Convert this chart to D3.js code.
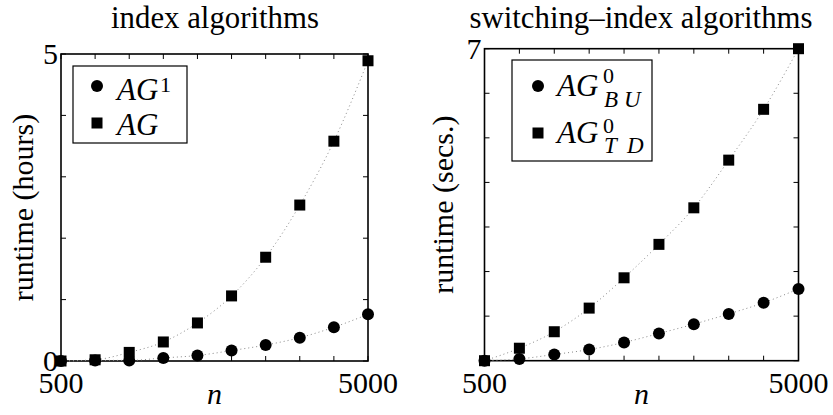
<!DOCTYPE html>
<html lang="en">
<head>
<meta charset="UTF-8">
<title>index vs switching-index algorithms</title>
<script src="https://d3js.org/d3.v7.min.js"></script>
<style>
  body { margin: 0; background: #fff; }
  text { font-family: "Liberation Serif", "DejaVu Serif", serif; fill: #000; }
</style>
</head>
<body>
<div id="chart"></div>
<script>
// problem sizes n
const nValues = [500, 1000, 1500, 2000, 2500, 3000, 3500, 4000, 4500, 5000];

// index algorithms, runtime in hours
const agOne = [0, 0.01, 0.01, 0.05, 0.09, 0.17, 0.26, 0.38, 0.55, 0.76];
const agPlain = [0, 0.02, 0.14, 0.31, 0.62, 1.06, 1.69, 2.54, 3.58, 4.89];

// switching-index algorithms, runtime in seconds
const agBU = [0, 0.04, 0.14, 0.25, 0.41, 0.61, 0.82, 1.05, 1.30, 1.61];
const agTD = [0, 0.28, 0.65, 1.18, 1.86, 2.61, 3.43, 4.50, 5.64, 7.0];

// tick labels
const xTickLabels = [500, 5000];
const leftYTickLabels = [0, 5];
const rightYTickLabels = [7];

const svg = d3.select('#chart')
    .append('svg')
    .attr('width', 833)
    .attr('height', 415);

function drawPanel(p) {
    const x = d3.scaleLinear().domain([500, 5000]).range([p.left, p.right]);
    const y = d3.scaleLinear().domain([0, p.yMax]).range([p.bottom, p.top]);
    const g = svg.append('g');

    // title
    g.append('text')
        .attr('x', p.titleX)
        .attr('y', 28)
        .attr('text-anchor', 'middle')
        .attr('font-size', '30.8px')
        .text(p.title);

    // inner ticks on all four sides
    const tickLen = 5;
    const xTicks = d3.range(500, 5001, 500);
    const yTicks = d3.range(0, p.yMax + 0.001, 1);
    xTicks.forEach(t => {
        g.append('line').attr('x1', x(t)).attr('x2', x(t))
            .attr('y1', p.bottom).attr('y2', p.bottom - tickLen)
            .attr('stroke', '#000').attr('stroke-width', 1);
        g.append('line').attr('x1', x(t)).attr('x2', x(t))
            .attr('y1', p.top).attr('y2', p.top + tickLen)
            .attr('stroke', '#000').attr('stroke-width', 1);
    });
    yTicks.forEach(t => {
        g.append('line').attr('x1', p.left).attr('x2', p.left + tickLen)
            .attr('y1', y(t)).attr('y2', y(t))
            .attr('stroke', '#000').attr('stroke-width', 1);
        g.append('line').attr('x1', p.right).attr('x2', p.right - tickLen)
            .attr('y1', y(t)).attr('y2', y(t))
            .attr('stroke', '#000').attr('stroke-width', 1);
    });

    // box
    g.append('rect')
        .attr('x', p.left).attr('y', p.top)
        .attr('width', p.right - p.left).attr('height', p.bottom - p.top)
        .attr('fill', 'none').attr('stroke', '#000').attr('stroke-width', 1.6);

    // tick labels
    xTickLabels.forEach(t => {
        g.append('text')
            .attr('x', x(t)).attr('y', 393)
            .attr('text-anchor', 'middle')
            .attr('font-size', '30px')
            .text(t);
    });
    p.yLabels.forEach(t => {
        g.append('text')
            .attr('x', p.left - 3).attr('y', y(t) + 10)
            .attr('text-anchor', 'end')
            .attr('font-size', '30px')
            .text(t);
    });

    // axis labels
    g.append('text')
        .attr('x', (p.left + p.right) / 2).attr('y', 404)
        .attr('text-anchor', 'middle')
        .attr('font-size', '30px')
        .attr('font-style', 'italic')
        .text('n');
    g.append('text')
        .attr('transform', `translate(${p.yLabelX},${(p.top + p.bottom) / 2}) rotate(-90)`)
        .attr('text-anchor', 'middle')
        .attr('font-size', '30px')
        .text(p.yLabel);

    // dotted trend curves
    const line = d3.line()
        .x((d, i) => x(nValues[i]))
        .y(d => y(d))
        .curve(d3.curveMonotoneX);
    [p.circles, p.squares].forEach(vals => {
        g.append('path')
            .attr('d', line(vals))
            .attr('fill', 'none')
            .attr('stroke', '#888')
            .attr('stroke-width', 1)
            .attr('stroke-dasharray', '1,3');
    });

    // markers
    g.selectAll('.sq').data(p.squares).enter()
        .append('rect')
        .attr('x', (d, i) => x(nValues[i]) - 5.5)
        .attr('y', d => y(d) - 5.5)
        .attr('width', 11).attr('height', 11)
        .attr('fill', '#000');
    g.selectAll('.ci').data(p.circles).enter()
        .append('circle')
        .attr('cx', (d, i) => x(nValues[i]))
        .attr('cy', d => y(d))
        .attr('r', 6)
        .attr('fill', '#000');

    // legend
    const lg = p.legend;
    g.append('rect')
        .attr('x', lg.x).attr('y', lg.y)
        .attr('width', lg.w).attr('height', lg.h)
        .attr('fill', '#fff').attr('stroke', '#000').attr('stroke-width', 1.2);
    g.append('circle')
        .attr('cx', lg.markX).attr('cy', lg.row1)
        .attr('r', 6).attr('fill', '#000');
    g.append('rect')
        .attr('x', lg.markX - 5.5).attr('y', lg.row2 - 5.5)
        .attr('width', 11).attr('height', 11).attr('fill', '#000');
    lg.draw(g);
}

drawPanel({
    title: 'index algorithms', titleX: 215,
    left: 61, right: 368, top: 54, bottom: 361, yMax: 5,
    yLabels: leftYTickLabels,
    yLabel: 'runtime (hours)', yLabelX: 33,
    circles: agOne, squares: agPlain,
    legend: {
        x: 73, y: 66, w: 114, h: 77, markX: 97, row1: 86, row2: 123,
        draw: g => {
            const t1 = g.append('text').attr('x', 117).attr('y', 100).attr('font-size', '31px');
            t1.append('tspan').attr('font-style', 'italic').text('AG');
            t1.append('tspan').attr('x', 160).attr('y', 92).attr('font-size', '22px').text('1');
            g.append('text').attr('x', 117).attr('y', 135).attr('font-size', '31px')
                .attr('font-style', 'italic').text('AG');
        }
    }
});

drawPanel({
    title: 'switching\u2013index algorithms', titleX: 641,
    left: 484.5, right: 798.5, top: 48.7, bottom: 360.7, yMax: 7,
    yLabels: rightYTickLabels,
    yLabel: 'runtime (secs.)', yLabelX: 453,
    circles: agBU, squares: agTD,
    legend: {
        x: 512, y: 60, w: 140, h: 101, markX: 538, row1: 86, row2: 133,
        draw: g => {
            const t1 = g.append('text').attr('x', 557).attr('y', 96).attr('font-size', '31px');
            t1.append('tspan').attr('font-style', 'italic').text('AG');
            t1.append('tspan').attr('x', 603).attr('y', 83).attr('font-size', '22px').text('0');
            t1.append('tspan').attr('x', 604).attr('y', 107).attr('font-size', '23px')
                .attr('font-style', 'italic').text('B');
            t1.append('tspan').attr('x', 624).attr('y', 107).attr('font-size', '23px')
                .attr('font-style', 'italic').text('U');
            const t2 = g.append('text').attr('x', 557).attr('y', 143).attr('font-size', '31px');
            t2.append('tspan').attr('font-style', 'italic').text('AG');
            t2.append('tspan').attr('x', 603).attr('y', 133).attr('font-size', '22px').text('0');
            t2.append('tspan').attr('x', 604).attr('y', 153).attr('font-size', '23px')
                .attr('font-style', 'italic').text('T');
            t2.append('tspan').attr('x', 627).attr('y', 153).attr('font-size', '23px')
                .attr('font-style', 'italic').text('D');
        }
    }
});
</script>
</body>
</html>
